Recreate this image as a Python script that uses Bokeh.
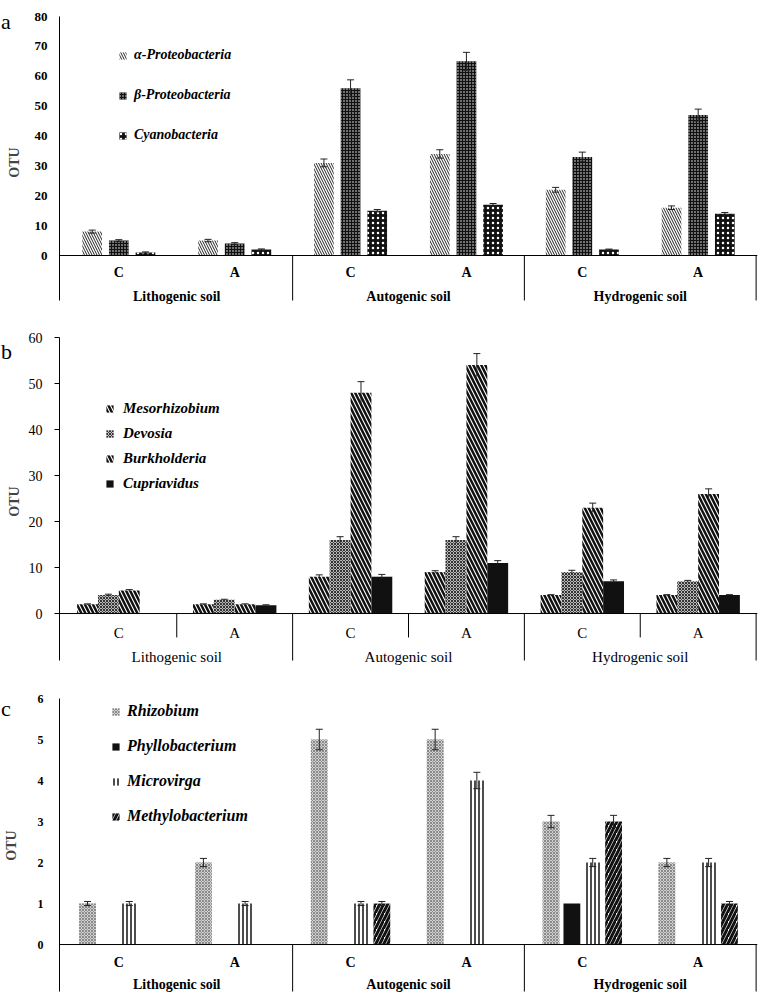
from bokeh.plotting import figure
from bokeh.models import (FactorRange, ColumnDataSource, Whisker, TeeHead, FixedTicker,
                          Legend, LegendItem, Span, Div)
from bokeh.transform import dodge
from bokeh.layouts import column
from bokeh.core.properties import value
from bokeh.embed import file_html
from bokeh.resources import INLINE

SERIF = "Liberation Serif"

# ---------------- data ----------------
groups = ["Lithogenic soil", "Autogenic soil", "Hydrogenic soil"]
subs = ["C", "A"]

# panel a  (order: Litho C, Litho A, Auto C, Auto A, Hydro C, Hydro A)
a_names = ["α-Proteobacteria", "β-Proteobacteria", "Cyanobacteria"]
a_alpha = [8, 5, 31, 34, 22, 16]
a_alpha_err = [0.5, 0.4, 1.3, 1.4, 0.8, 0.6]
a_beta = [5, 4, 56, 65, 33, 47]
a_beta_err = [0.3, 0.3, 2.8, 3.0, 1.6, 2.0]
a_cyano = [1, 2, 15, 17, 2, 14]
a_cyano_err = [0.2, 0.2, 0.4, 0.4, 0.15, 0.4]
a_ticks = [0, 10, 20, 30, 40, 50, 60, 70, 80]

# panel b
b_names = ["Mesorhizobium", "Devosia", "Burkholderia", "Cupriavidus"]
b_meso = [2, 2, 8, 9, 4, 4]
b_meso_err = [0.1, 0.1, 0.4, 0.3, 0.1, 0.1]
b_devosia = [4, 3, 16, 16, 9, 7]
b_devosia_err = [0.2, 0.1, 0.7, 0.7, 0.4, 0.2]
b_burk = [5, 2, 48, 54, 23, 26]
b_burk_err = [0.2, 0.1, 2.4, 2.5, 1.0, 1.1]
b_cupri = [0, 1.8, 8, 11, 7, 4]
b_cupri_err = [0, 0.1, 0.5, 0.5, 0.3, 0.1]
b_ticks = [0, 10, 20, 30, 40, 50, 60]

# panel c
c_names = ["Rhizobium", "Phyllobacterium", "Microvirga", "Methylobacterium"]
c_rhizo = [1, 2, 5, 5, 3, 2]
c_rhizo_err = [0.05, 0.1, 0.25, 0.25, 0.15, 0.1]
c_phyllo = [0, 0, 0, 0, 1, 0]
c_phyllo_err = [0, 0, 0, 0, 0, 0]
c_micro = [1, 1, 1, 4, 2, 2]
c_micro_err = [0.05, 0.05, 0.05, 0.2, 0.1, 0.1]
c_methylo = [0, 0, 1, 0, 3, 1]
c_methylo_err = [0, 0, 0.05, 0, 0.15, 0.05]
c_ticks = [0, 1, 2, 3, 4, 5, 6]

factors = [(g, s) for g in groups for s in subs]


def make_panel(series, offsets, bar_w, y_end, y_start, box_bottom, ticks, width, height,
               borders, tick_font, tick_style, tick_out, tick_standoff, axis_label_standoff,
               sub_y, grp_y, cat_font, cat_style, sub_separators, legend_pos, legend_spacing,
               legend_font, legend_standoff, both_heads):
    left, right, top, bottom = borders
    xr = FactorRange(*factors, factor_padding=0, group_padding=0,
                     range_padding=0.012, range_padding_units="absolute")
    p = figure(x_range=xr, y_range=(y_start, y_end), width=width, height=height,
               output_backend="svg", toolbar_location=None, x_axis_location=None,
               min_border_left=left, min_border_right=right,
               min_border_top=top, min_border_bottom=bottom)
    p.outline_line_color = None
    p.xgrid.visible = False
    p.ygrid.visible = False
    p.background_fill_color = "white"
    p.border_fill_color = "white"

    ax = p.yaxis[0]
    ax.ticker = FixedTicker(ticks=ticks)
    ax.bounds = (box_bottom, y_end)
    ax.minor_tick_line_color = None
    ax.major_tick_in = 0
    ax.major_tick_out = tick_out
    if tick_out == 0:
        ax.major_tick_line_color = None
    ax.major_label_standoff = tick_standoff
    ax.major_label_text_font = SERIF
    ax.major_label_text_font_size = tick_font
    ax.major_label_text_font_style = tick_style
    ax.major_label_text_color = "black"
    ax.axis_line_color = "black"
    ax.axis_line_width = 1
    ax.axis_label = "OTU"
    ax.axis_label_text_font = SERIF
    ax.axis_label_text_font_size = "14px"
    ax.axis_label_text_font_style = "bold"
    ax.axis_label_standoff = axis_label_standoff

    items = []
    for (name, vals, errs, style), off in zip(series, offsets):
        src = ColumnDataSource(dict(x=factors, top=vals))
        r = p.vbar(x=dodge("x", off, range=xr), top="top", width=bar_w, source=src, **style)
        items.append(LegendItem(label=name, renderers=[r]))
        keep = [i for i, (v, e) in enumerate(zip(vals, errs)) if e > 0 and v > 0]
        if keep:
            wsrc = ColumnDataSource(dict(x=[factors[i] for i in keep],
                                         upper=[vals[i] + errs[i] for i in keep],
                                         lower=[vals[i] - errs[i] for i in keep]))
            w = Whisker(source=wsrc, base=dodge("x", off, range=xr), upper="upper", lower="lower",
                        dimension="height", line_color="#222222", line_width=1,
                        upper_head=TeeHead(size=7, line_color="#222222", line_width=1),
                        lower_head=(TeeHead(size=7, line_color="#222222", line_width=1)
                                    if both_heads else None))
            w.level = "overlay"
            p.add_layout(w)

    # category box
    p.add_layout(Span(location=0, dimension="width", line_color="black", line_width=1))
    sep_x = [("Autogenic soil", "C"), ("Hydrogenic soil", "C")]
    ssrc = ColumnDataSource(dict(x=sep_x))
    p.segment(x0=dodge("x", -0.5, range=xr), x1=dodge("x", -0.5, range=xr), y0=0, y1=box_bottom,
              source=ssrc, line_color="black", line_width=1)
    esrc = ColumnDataSource(dict(x=[("Hydrogenic soil", "A")]))
    p.segment(x0=dodge("x", 0.5, range=xr), x1=dodge("x", 0.5, range=xr), y0=0, y1=box_bottom,
              source=esrc, line_color="black", line_width=1)
    if sub_separators is not None:
        asrc = ColumnDataSource(dict(x=[(g, "A") for g in groups]))
        p.segment(x0=dodge("x", -0.5, range=xr), x1=dodge("x", -0.5, range=xr), y0=0,
                  y1=sub_separators, source=asrc, line_color="black", line_width=1)

    tsrc = ColumnDataSource(dict(x=factors, y=[sub_y] * len(factors), t=[f[1] for f in factors]))
    p.text(x="x", y="y", text="t", source=tsrc, text_align="center", text_baseline="middle",
           text_font=value(SERIF), text_font_size=cat_font, text_font_style=cat_style,
           text_color="black")
    gsrc = ColumnDataSource(dict(x=groups, y=[grp_y] * len(groups), t=groups))
    p.text(x="x", y="y", text="t", source=gsrc, text_align="center", text_baseline="middle",
           text_font=value(SERIF), text_font_size=cat_font, text_font_style=cat_style,
           text_color="black")

    leg = Legend(items=items, location=legend_pos, orientation="vertical",
                 background_fill_alpha=0, border_line_color=None, padding=0, margin=0,
                 spacing=legend_spacing, glyph_width=9, glyph_height=9, label_height=10,
                 label_standoff=legend_standoff, label_text_font=SERIF,
                 label_text_font_size=legend_font, label_text_font_style="bold italic",
                 label_text_color="black")
    p.add_layout(leg)
    return p


def letter(text, top_px):
    return Div(text=text, width=30, height=0, margin=(0, 0, 0, 0),
               styles={"position": "relative", "z-index": "10", "overflow": "visible",
                       "top": f"{top_px}px", "left": "1px",
                       "font-family": SERIF, "font-size": "22px", "line-height": "22px",
                       "color": "black"})


# styles
st_alpha = dict(fill_color="white", line_color=None, hatch_pattern="\\", hatch_color="#222222",
                hatch_scale=5, hatch_weight=1)
st_beta = dict(fill_color="#111111", line_color=None, hatch_pattern=".", hatch_color="white",
               hatch_scale=3, hatch_weight=1)
st_cyano = dict(fill_color="#111111", line_color=None, hatch_pattern=".", hatch_color="white",
                hatch_scale=5, hatch_weight=1)

st_meso = dict(fill_color="white", line_color=None, hatch_pattern="\\", hatch_color="#111111",
               hatch_scale=8, hatch_weight=2.5)
st_devosia = dict(fill_color="#b8b8b8", line_color=None, hatch_pattern="x", hatch_color="#333333",
                  hatch_scale=3, hatch_weight=1)
st_burk = dict(fill_color="white", line_color=None, hatch_pattern="\\", hatch_color="#111111",
               hatch_scale=8, hatch_weight=2.5)
st_cupri = dict(fill_color="#111111", line_color=None)

st_rhizo = dict(fill_color="#d0d0d0", line_color=None, hatch_pattern="x", hatch_color="#8a8a8a",
                hatch_scale=3, hatch_weight=1)
st_phyllo = dict(fill_color="#111111", line_color=None)
st_micro = dict(fill_color="white", line_color=None, hatch_pattern="|", hatch_color="#111111",
                hatch_scale=4, hatch_weight=1.5)
st_methylo = dict(fill_color="white", line_color=None, hatch_pattern="/", hatch_color="#111111",
                  hatch_scale=8, hatch_weight=3)

pa = make_panel(
    [(a_names[0], a_alpha, a_alpha_err, st_alpha),
     (a_names[1], a_beta, a_beta_err, st_beta),
     (a_names[2], a_cyano, a_cyano_err, st_cyano)],
    offsets=[-0.23, 0.0, 0.23], bar_w=0.17, y_end=80, y_start=-17.74, box_bottom=-15.06,
    ticks=a_ticks, width=767, height=320, borders=(51, 10, 16, 12), tick_font="13px",
    tick_style="bold", tick_out=0, tick_standoff=12, axis_label_standoff=10, sub_y=-5.69,
    grp_y=-13.72, cat_font="14px", cat_style="bold", sub_separators=None,
    legend_pos=(59, 165), legend_spacing=24, legend_font="14px", legend_standoff=7,
    both_heads=True)

pb = make_panel(
    [(b_names[0], b_meso, b_meso_err, st_meso),
     (b_names[1], b_devosia, b_devosia_err, st_devosia),
     (b_names[2], b_burk, b_burk_err, st_burk),
     (b_names[3], b_cupri, b_cupri_err, st_cupri)],
    offsets=[-0.27, -0.09, 0.09, 0.27], bar_w=0.18, y_end=60, y_start=-11.3, box_bottom=-10.22,
    ticks=b_ticks, width=767, height=345, borders=(52, 1, 17, 0), tick_font="14px",
    tick_style="normal", tick_out=5, tick_standoff=12, axis_label_standoff=4, sub_y=-4.13,
    grp_y=-9.35, cat_font="15px", cat_style="normal", sub_separators=-5.2,
    legend_pos=(46, 173), legend_spacing=8, legend_font="15px", legend_standoff=9,
    both_heads=False)

pc = make_panel(
    [(c_names[0], c_rhizo, c_rhizo_err, st_rhizo),
     (c_names[1], c_phyllo, c_phyllo_err, st_phyllo),
     (c_names[2], c_micro, c_micro_err, st_micro),
     (c_names[3], c_methylo, c_methylo_err, st_methylo)],
    offsets=[-0.27, -0.09, 0.09, 0.27], bar_w=0.145, y_end=6, y_start=-1.17, box_bottom=-1.146,
    ticks=c_ticks, width=767, height=327, borders=(55, 2, 33, 0), tick_font="12px",
    tick_style="bold", tick_out=0, tick_standoff=16, axis_label_standoff=16, sub_y=-0.44,
    grp_y=-0.976, cat_font="14px", cat_style="bold", sub_separators=None,
    legend_pos=(52, 167), legend_spacing=17, legend_font="16px", legend_standoff=7,
    both_heads=True)

layout = column(letter("a", 11), pa, letter("b", 21), pb, letter("c", 33), pc, spacing=0)
open("out.html", "w").write(file_html(layout, INLINE))
